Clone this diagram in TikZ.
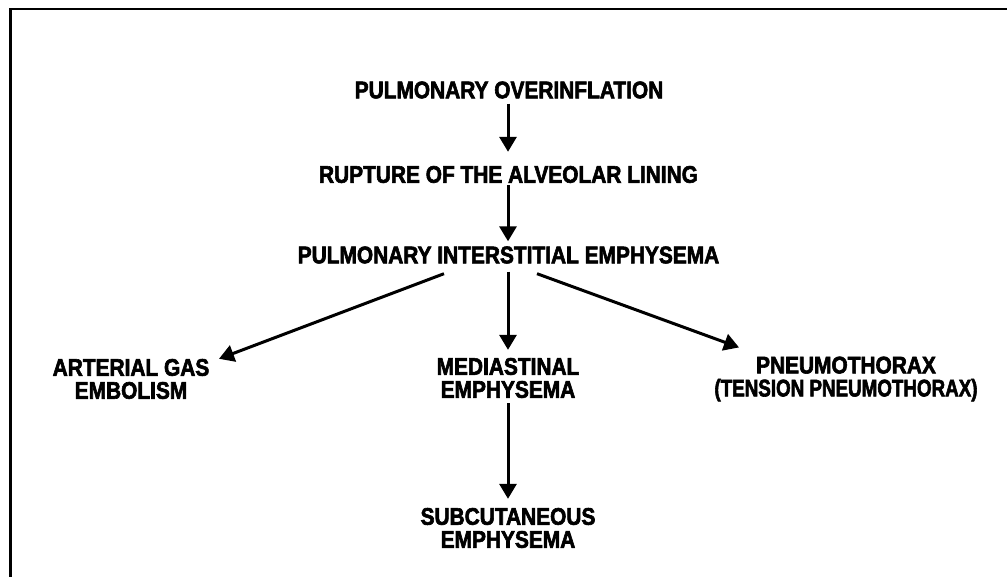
\documentclass[tikz,border=0pt]{standalone}
\usepackage{fontspec}
\setmainfont[FakeStretch=0.87,FakeBold=2.5]{Liberation Sans}
\usetikzlibrary{arrows.meta,calc}
\begin{document}
\begin{tikzpicture}[x=1pt,y=-1pt,
  lbl/.style={inner sep=0pt,align=center,font=\fontsize{24}{23}\selectfont\bfseries},
  arr/.style={line width=3pt,-{Triangle[length=15pt,width=17pt]}},
  frame/.style={line width=2.2pt}]
\useasboundingbox (0,0) rectangle (1007,577);
\draw[frame] (10.5,577) -- (10.5,9) -- (1007,9);
\node[lbl] (po)  at (509,90)  {PULMONARY OVERINFLATION};
\node[lbl] (rup) at (508.5,174.5) {RUPTURE OF THE ALVEOLAR LINING};
\node[lbl] (pie) at (508.5,255) {PULMONARY INTERSTITIAL EMPHYSEMA};
\node[lbl] (age) at (131,379) {ARTERIAL GAS\\EMBOLISM};
\node[lbl] (med) at (508,378) {MEDIASTINAL\\EMPHYSEMA};
\node[lbl] (pne) at (846,379) {PNEUMOTHORAX\\\scalebox{0.9}[1]{(TENSION PNEUMOTHORAX)}};
\node[lbl] (sub) at (508,528) {SUBCUTANEOUS\\EMPHYSEMA};
\draw[arr] ($(po.south)+(-1,5)$) -- ($(rup.north)+(-0.5,-14)$);
\draw[arr] ($(rup.south)+(-0.5,2)$) -- ($(pie.north)+(-0.5,-5)$);
\draw[arr] ($(pie.south)+(-64.5,10)$) -- ($(age.north)+(88,0)$);
\draw[arr] ($(pie.south)+(-0.5,8)$) -- ($(med.north)+(0,-8)$);
\draw[arr] ($(pie.south)+(28.5,10)$) -- ($(pne.north)+(-107,-9)$);
\draw[arr] ($(med.south)+(0,5)$) -- ($(sub.north)+(0,-9)$);
\end{tikzpicture}
\end{document}
